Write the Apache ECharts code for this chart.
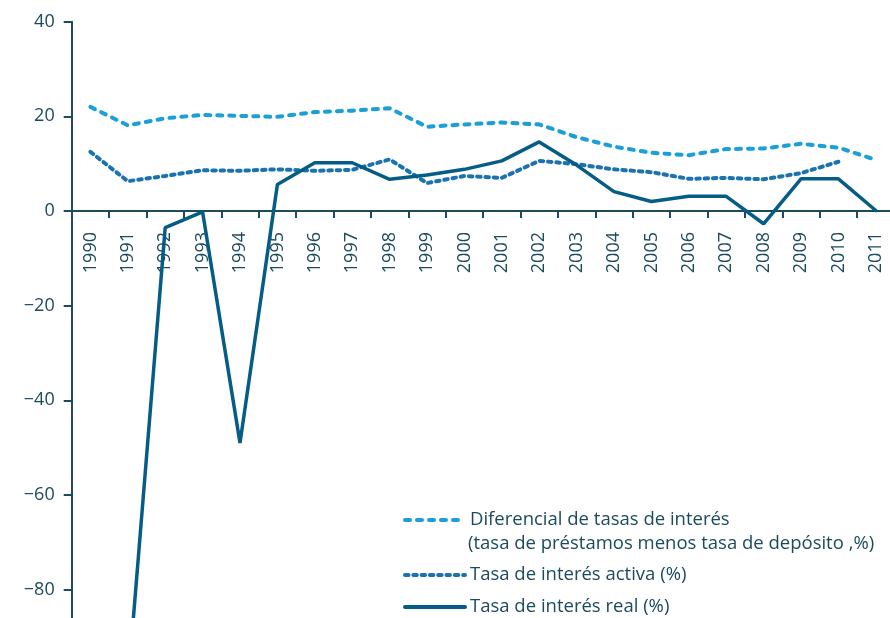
<!DOCTYPE html>
<html>
<head>
<meta charset="utf-8">
<script src="https://cdn.jsdelivr.net/npm/echarts@6/dist/echarts.min.js"></script>
<style>html,body{margin:0;padding:0;background:#fff}#c{width:890px;height:618px}</style>
</head>
<body>
<div id="c"></div>
<script>
const years = ['1990','1991','1992','1993','1994','1995','1996','1997','1998','1999','2000','2001','2002','2003','2004','2005','2006','2007','2008','2009','2010','2011'];
const diferencial = [22.0,18.1,19.6,20.3,20.1,19.9,20.9,21.2,21.7,17.8,18.3,18.7,18.3,15.6,13.6,12.3,11.8,13.1,13.2,14.2,13.4,10.8];
const activa = [12.5,6.3,7.4,8.6,8.5,8.8,8.5,8.7,10.9,5.9,7.4,7.0,10.6,9.9,8.8,8.2,6.8,7.0,6.7,8.0,10.4,null];
const real = [null,-100.5,-3.5,-0.2,-49.0,5.6,10.2,10.2,6.7,7.6,8.8,10.6,14.6,9.7,4.1,2.0,3.1,3.1,-2.7,6.8,6.8,0.1];
const names = ['Diferencial de tasas de interés','Tasa de interés activa (%)','Tasa de interés real (%)'];
const line2 = '(tasa de préstamos menos tasa de depósito ,%)';

const axisColor = '#1d4a5c';
const textColor = '#1b4a5e';
const font = 'Open Sans';

const chart = echarts.init(document.getElementById('c'), null, {renderer:'canvas'});
chart.setOption({
  animation:false,
  grid:{left:71.7, right:-4.5, top:21.7, bottom:-160.9, containLabel:false, outerBoundsMode:'none'},
  xAxis:{
    type:'category', data:years, boundaryGap:true, position:'top', offset:-189.3,
    axisLine:{onZero:false, lineStyle:{color:axisColor, width:2}},
    axisTick:{show:true, inside:true, length:7, lineStyle:{color:axisColor, width:2}},
    axisLabel:{inside:true, rotate:-90, margin:21, color:textColor, fontFamily:font, fontSize:18, interval:0},
    splitLine:{show:false}
  },
  yAxis:{
    type:'value', min:-120, max:40, interval:20,
    axisLine:{show:true, onZero:false, lineStyle:{color:axisColor, width:2}},
    axisTick:{show:true, length:8, lineStyle:{color:axisColor, width:2}},
    axisLabel:{margin:17, color:textColor, fontFamily:font, fontSize:18,
      formatter:v=>String(v).replace('-','\u2212')},
    splitLine:{show:false}
  },
  legend:[
    {data:[names[0]], left:403, top:509, padding:0, itemWidth:60, itemHeight:14, itemStyle:{opacity:0},
     lineStyle:{width:4}, textStyle:{color:textColor, fontFamily:font, fontSize:18.5, lineHeight:22}},
    {data:[names[1],names[2]], orient:'vertical', left:403, top:564, padding:0, itemGap:10, itemWidth:60, itemHeight:14, itemStyle:{opacity:0},
     lineStyle:{width:4}, textStyle:{color:textColor, fontFamily:font, fontSize:18.5, lineHeight:22}}
  ],
  graphic:[{type:'text', left:468, top:534, style:{text:line2, fill:textColor, font:'18.5px "Open Sans"'}}],
  series:[
    {name:names[0], type:'line', data:diferencial, symbol:'none', z:3,
     lineStyle:{color:'#1a9fd9', width:4, type:[5,7], cap:'round'}, itemStyle:{color:'#1a9fd9'}},
    {name:names[1], type:'line', data:activa, symbol:'none', z:3,
     lineStyle:{color:'#1a72b0', width:4, type:[3.5,4.8], cap:'round'}, itemStyle:{color:'#1a72b0'}},
    {name:names[2], type:'line', data:real, symbol:'none', z:4,
     lineStyle:{color:'#055d86', width:3.5, cap:'round'}, itemStyle:{color:'#055d86'}}
  ]
});
</script>
</body>
</html>
